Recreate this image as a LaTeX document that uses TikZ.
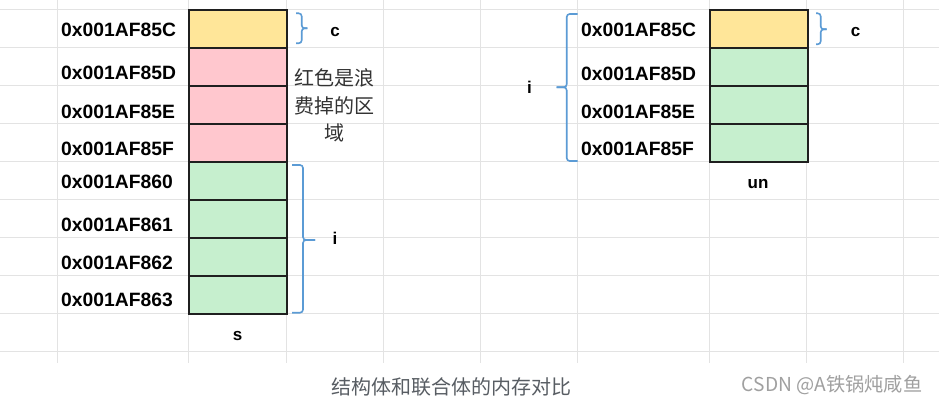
\documentclass[tikz,border=0pt]{standalone}
\usepackage{fontspec}
\setmainfont{Liberation Sans}
\newfontfamily\cjk{Noto Sans CJK SC}
\definecolor{gridc}{HTML}{E3E3E3}
\definecolor{yel}{HTML}{FFE699}
\definecolor{pnk}{HTML}{FFC7CE}
\definecolor{grn}{HTML}{C6EFCE}
\definecolor{brc}{HTML}{5B9BD5}
\definecolor{capc}{HTML}{585D63}
\definecolor{wmc}{HTML}{A0A0A0}
\begin{document}
\begin{tikzpicture}[x=1pt,y=-1pt,
  gridline/.style={draw=gridc,line width=0.9pt},
  cell/.style={draw=black!88,line width=1.5pt,anchor=north west,inner sep=0pt,minimum width=98pt,minimum height=38pt},
  addr/.style={anchor=base west,inner sep=0pt,font=\fontsize{19.3}{21}\selectfont\bfseries},
  lbl/.style={anchor=base,inner sep=0pt,font=\fontsize{17}{20}\selectfont\bfseries},
  bracepath/.style={draw=brc,line width=1.6pt,rounded corners=3pt}]
\useasboundingbox (0,0) rectangle (939,403);
\fill[white] (0,0) rectangle (939,403);
% grid
\foreach \gx in {57.3,188,286,383,480.5,577.3,709,806,903.3}
  \draw[gridline] (\gx,0) -- (\gx,362.7);
\foreach \gy in {9.3,47.3,85.3,123.3,161.3,199.3,237.3,275.3,313.3,351.3}
  \draw[gridline] (0,\gy) -- (939,\gy);
% struct s cells
\node[cell,fill=yel] (s1) at (188,9.3) {};
\node[cell,fill=pnk] (s2) at (188,47.3) {};
\node[cell,fill=pnk] (s3) at (188,85.3) {};
\node[cell,fill=pnk] (s4) at (188,123.3) {};
\node[cell,fill=grn] (s5) at (188,161.3) {};
\node[cell,fill=grn] (s6) at (188,199.3) {};
\node[cell,fill=grn] (s7) at (188,237.3) {};
\node[cell,fill=grn] (s8) at (188,275.3) {};
% union un cells
\node[cell,fill=yel] (u1) at (709,9.3) {};
\node[cell,fill=grn] (u2) at (709,47.3) {};
\node[cell,fill=grn] (u3) at (709,85.3) {};
\node[cell,fill=grn] (u4) at (709,123.3) {};
% addresses left
\node[addr] (a1) at (61,36.7) {0x001AF85C};
\node[addr] (a2) at (61,80) {0x001AF85D};
\node[addr] (a3) at (61,118.3) {0x001AF85E};
\node[addr] (a4) at (61,156) {0x001AF85F};
\node[addr] (a5) at (61,188.3) {0x001AF860};
\node[addr] (a6) at (61,231.7) {0x001AF861};
\node[addr] (a7) at (61,269.3) {0x001AF862};
\node[addr] (a8) at (61,306.7) {0x001AF863};
% addresses right
\node[addr] (b1) at (581,36.7) {0x001AF85C};
\node[addr] (b2) at (581,81) {0x001AF85D};
\node[addr] (b3) at (581,118.3) {0x001AF85E};
\node[addr] (b4) at (581,156) {0x001AF85F};
% labels
\node[lbl] (lc) at (335,36.7) {c};
\node[lbl] (li) at (335,245) {i};
\node[lbl] (ls) at (237.5,340.7) {s};
\node[lbl] (rc) at (855.5,36.7) {c};
\node[lbl] (ri) at (529.5,93.3) {i};
\node[lbl] (run) at (758,188.3) {un};
% note
\node[align=center,inner sep=0pt,text=black!80,font=\cjk\fontsize{20}{27.5}\selectfont] (note) at (334.5,105.5) {红色是浪\\费掉的区\\域};
% braces
\draw[bracepath] (296,13.3) -| (301.7,28.3) -- (307.3,28.3);
\draw[bracepath] (296,43.3) -| (301.7,28.3) -- (307.3,28.3);
\draw[bracepath] (292,165) -| (303,240) -- (315,240);
\draw[bracepath] (292,312.7) -| (303,240) -- (315,240);
\draw[bracepath] (577.7,14) -| (566.7,87.3) -- (556.7,87.3);
\draw[bracepath] (577.7,161) -| (566.7,87.3) -- (556.7,87.3);
\draw[bracepath] (816,13.3) -| (820.7,29.3) -- (826.7,29.3);
\draw[bracepath] (816,44.3) -| (820.7,29.3) -- (826.7,29.3);
% caption and watermark
\node[anchor=center,inner sep=0pt,text=capc,font=\cjk\fontsize{20}{24}\selectfont] (cap) at (451,387) {结构体和联合体的内存对比};
\node[anchor=center,inner sep=0pt,text=wmc,font=\cjk\fontsize{19.2}{22}\selectfont] (wm) at (832,385) {CSDN @A铁锅炖咸鱼};
\end{tikzpicture}
\end{document}
